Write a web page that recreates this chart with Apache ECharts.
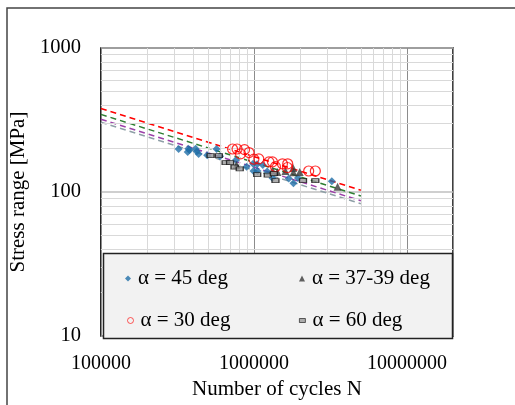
<!DOCTYPE html>
<html>
<head>
<meta charset="utf-8">
<script src="https://cdn.jsdelivr.net/npm/echarts@6/dist/echarts.min.js"></script>
<style>html,body{margin:0;padding:0;background:#fff}#c{width:515px;height:405px}</style>
</head>
<body>
<div id="c"></div>
<script>
// Data: [number of cycles N, stress range MPa]
const alpha45 = [[322000,199],[373000,200],[369000,190],[379000,196],[416000,200],[423000,191],[435000,184],[495000,180],[570000,199],[601000,177],[764000,167],[895000,150],[987000,157],[1048000,156],[994000,140],[1055000,140],[1143000,154],[1221000,139],[1321000,125],[1689000,124],[1812000,115],[1940000,125],[3230000,119]];
const alpha3739 = [[770000,154],[1322000,141],[1425000,138],[1607000,140],[1804000,147],[1812000,137],[1992000,138],[3520000,109]];
const alpha30 = [[725000,199],[776000,199],[818000,184],[868000,197],[929000,188],[999000,169],[1076000,170],[1254000,162],[1322000,162],[1383000,150],[1536000,157],[1663000,157],[1656000,148],[2280000,140],[2520000,140]];
const alpha60 = [[521000,179],[590000,179],[653000,160],[699000,160],[747000,149],[808000,145],[1051000,132],[1231000,131],[1349000,134],[1383000,120],[2093000,120],[2520000,120]];
// Design S-N curves (dashed)
const curveRed = [[100000,380],[5000000,103]];
const curveGreen = [[100000,346],[5000000,94]];
const curvePurple = [[100000,320],[5000000,87]];
const curveGray = [[100000,305],[5000000,83]];
// Axis ticks
const xTicks = [100000,1000000,10000000];
const yTicks = [10,100,1000];
const xMinorGrid = [];
[100000,1000000,10000000].forEach(d=>{for(let k=2;k<=9;k++){const v=k*d; if(v<20000000) xMinorGrid.push(v);}});
const yMinorGrid = [];
[10,100].forEach(d=>{for(let k=2;k<=9;k++) yMinorGrid.push(k*d);});
const names = ['α = 45 deg','α = 37-39 deg','α = 30 deg','α = 60 deg'];

const font = 'Liberation Serif';
const chart = echarts.init(document.getElementById('c'), null, {renderer:'canvas'});
const legendBase = (name, left, top, w, h, sym, st) => ({
  data:[{name:name, icon:sym, itemStyle:st}], left:left, top:top, padding:0, itemWidth:w, itemHeight:h, itemGap:0,
  textStyle:{fontFamily:font, fontSize:21, color:'#000', padding:[0,0,0,2]}, z:20, selectedMode:false
});
chart.setOption({
  animation:false,
  backgroundColor:'#fff',
  grid:{left:100, top:48, width:353, height:295, show:true, borderColor:'#000', borderWidth:1.5, backgroundColor:'transparent'},
  xAxis:{type:'log', logBase:10, min:100000, max:20000000,
    axisLine:{show:false}, axisTick:{show:false},
    axisLabel:{fontFamily:font, fontSize:20, color:'#000', margin:18,
      formatter:v=>{const r=Math.round(v); return xTicks.includes(r)?String(r):'';}},
    splitLine:{show:true, lineStyle:{color:'#8c8c8c', width:1}},
    name:'Number of cycles N', nameLocation:'middle', nameGap:40,
    nameTextStyle:{fontFamily:font, fontSize:21, color:'#000'}},
  yAxis:{type:'log', logBase:10, min:10, max:1000,
    axisLine:{show:false}, axisTick:{show:false},
    axisLabel:{fontFamily:font, fontSize:20.5, color:'#000', margin:20, padding:[10,0,0,0],
      formatter:v=>{const r=Math.round(v); return yTicks.includes(r)?String(r):'';}},
    splitLine:{show:true, lineStyle:{color:'#bfbfbf', width:1.5}},
    name:'Stress range [MPa]', nameLocation:'middle', nameGap:64,
    nameTextStyle:{fontFamily:font, fontSize:21, color:'#000'}},
  legend:[
    legendBase(names[0],125,268,6,6,'diamond'),
    legendBase(names[1],299,268,6,6,'triangle'),
    legendBase(names[2],125,310,6,6,'circle',{color:'none', borderColor:'#ff0000', borderWidth:0.8}),
    legendBase(names[3],299,310,6,4,'rect',{color:'#9a9a9a', borderColor:'#111', borderWidth:0.8})
  ],
  graphic:[
    {type:'rect', z:10, shape:{x:7,y:8,width:530,height:420}, style:{fill:'none', stroke:'#444', lineWidth:1.5}, silent:true},
    {type:'rect', z:10, shape:{x:103.5,y:253.5,width:349,height:85}, style:{fill:'#f2f2f2', stroke:'#222', lineWidth:1.5}, silent:true}
  ],
  series:[
    {name:'grid', type:'line', data:[], z:1, silent:true,
      markLine:{silent:true, symbol:['none','none'], label:{show:false}, animation:false,
        lineStyle:{color:'#d9d9d9', width:1, type:'solid'},
        data: xMinorGrid.map(v=>({xAxis:v})).concat(yMinorGrid.map(v=>({yAxis:v})))}},
    {name:'redCurve', type:'line', data:curveRed, showSymbol:false, z:3, lineStyle:{color:'#ff0000', width:1.5, type:[6,4]}},
    {name:'greenCurve', type:'line', data:curveGreen, showSymbol:false, z:3, lineStyle:{color:'#2e7d32', width:1.5, type:[6,4]}},
    {name:'purpleCurve', type:'line', data:curvePurple, showSymbol:false, z:3, lineStyle:{color:'#9c3fa8', width:1.5, type:[6,4]}},
    {name:'grayCurve', type:'line', data:curveGray, showSymbol:false, z:3, lineStyle:{color:'#8e9fa6', width:1.5, type:[6,4]}},
    {name:names[0], type:'scatter', data:alpha45, symbol:'diamond', symbolSize:8, z:5, itemStyle:{color:'#1f6ea8'}},
    {name:names[1], type:'scatter', data:alpha3739, symbol:'triangle', symbolSize:8, z:5, itemStyle:{color:'#3a3a3a'}},
    {name:names[2], type:'scatter', data:alpha30, symbol:'circle', symbolSize:10, z:5, itemStyle:{color:'none', borderColor:'#ff0000', borderWidth:1.2}},
    {name:names[3], type:'scatter', data:alpha60, symbol:'rect', symbolSize:[7,4], z:5, itemStyle:{color:'#9a9a9a', borderColor:'#111', borderWidth:1}}
  ]
});
</script>
</body>
</html>
